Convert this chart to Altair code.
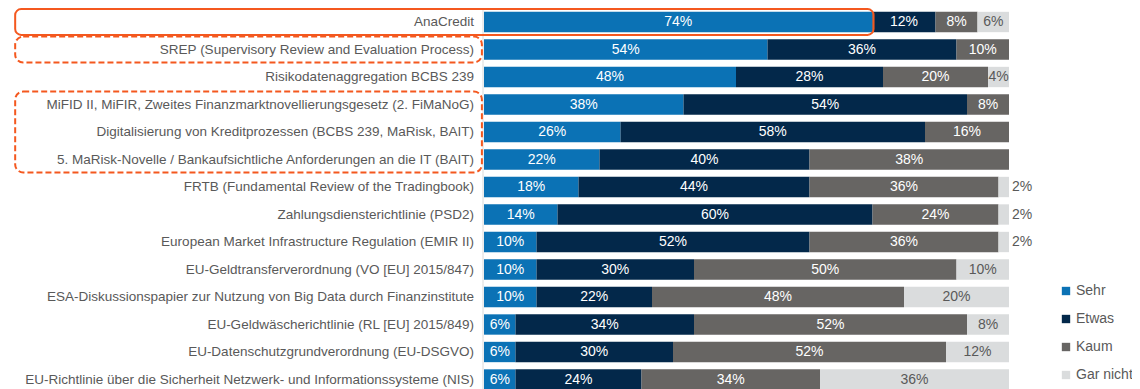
import altair as alt
import pandas as pd

categories = [
    "AnaCredit",
    "SREP (Supervisory Review and Evaluation Process)",
    "Risikodatenaggregation BCBS 239",
    "MiFID II, MiFIR, Zweites Finanzmarktnovellierungsgesetz (2. FiMaNoG)",
    "Digitalisierung von Kreditprozessen (BCBS 239, MaRisk, BAIT)",
    "5. MaRisk-Novelle / Bankaufsichtliche Anforderungen an die IT (BAIT)",
    "FRTB (Fundamental Review of the Tradingbook)",
    "Zahlungsdiensterichtlinie (PSD2)",
    "European Market Infrastructure Regulation (EMIR II)",
    "EU-Geldtransferverordnung (VO [EU] 2015/847)",
    "ESA-Diskussionspapier zur Nutzung von Big Data durch Finanzinstitute",
    "EU-Geldwäscherichtlinie (RL [EU] 2015/849)",
    "EU-Datenschutzgrundverordnung (EU-DSGVO)",
    "EU-Richtlinie über die Sicherheit Netzwerk- und Informationssysteme (NIS)",
]
series_names = ["Sehr", "Etwas", "Kaum", "Gar nicht"]
sehr = [74, 54, 48, 38, 26, 22, 18, 14, 10, 10, 10, 6, 6, 6]
etwas = [12, 36, 28, 54, 58, 40, 44, 60, 52, 30, 22, 34, 30, 24]
kaum = [8, 10, 20, 8, 16, 38, 36, 24, 36, 50, 48, 52, 52, 34]
gar_nicht = [6, 0, 4, 0, 0, 0, 2, 2, 2, 10, 20, 8, 12, 36]
series_colors = ["#0b72b5", "#03284a", "#676563", "#dadcdd"]

# highlighted groups: (first category, last category, solid?, extend over Sehr bar?)
highlights = [
    (categories[0], categories[0], True, True),
    (categories[1], categories[1], False, False),
    (categories[3], categories[5], False, False),
]

values = [sehr, etwas, kaum, gar_nicht]
rows = []
for i, cat in enumerate(categories):
    start = 0
    for s, vals in zip(series_names, values):
        v = vals[i]
        rows.append(dict(cat=cat, row=i, series=s, value=v, start=start,
                         end=start + v, mid=start + v / 2, label=f"{v}%",
                         y0=i - 0.37, y1=i + 0.37))
        start += v
df = pd.DataFrame(rows)
df = df[df.value > 0]

cats_df = pd.DataFrame(dict(cat=categories, row=range(len(categories))))

hl_rows = []
for first, last, solid, over in highlights:
    r0 = categories.index(first)
    r1 = categories.index(last)
    x1 = sehr[r0] + 0.2 if over else -0.4
    hl_rows.append(dict(y0=r0 - 0.47, y1=r1 + 0.47, x0=-89.3, x1=x1, solid=solid))
hl = pd.DataFrame(hl_rows)

W, H = 1124, 381
px_per_unit = 5.25
xmin = -(484 - 8) / px_per_unit
xmax = xmin + W / px_per_unit
pitch = 27.5
ymin = -14 / pitch
ymax = ymin + H / pitch

xs = alt.Scale(domain=[xmin, xmax], nice=False, zero=False)
ys = alt.Scale(domain=[ymin, ymax], nice=False, zero=False, reverse=True)
FONT = "Liberation Sans"
GRAY = "#595959"

axis_rule = alt.Chart(cats_df).mark_rule(color="#d9d9d9", strokeWidth=1, xOffset=-1).encode(
    x=alt.X(datum=0, scale=xs, axis=None),
    y=alt.Y("y0:Q", scale=ys, axis=None),
    y2="y1:Q",
).transform_calculate(y0="datum.row - 0.5", y1="datum.row + 0.5")

bars = alt.Chart(df).mark_rect().encode(
    x=alt.X("start:Q", scale=xs, axis=None),
    x2="end:Q",
    y=alt.Y("y0:Q", scale=ys, axis=None),
    y2="y1:Q",
    color=alt.Color(
        "series:N",
        scale=alt.Scale(domain=series_names, range=series_colors),
        sort=series_names,
        legend=alt.Legend(
            title=None, orient="none", legendX=1051, legendY=276,
            symbolType="square", symbolSize=70, symbolStrokeWidth=0,
            labelFont=FONT, labelFontSize=14, labelColor=GRAY,
            rowPadding=14, labelOffset=3, padding=0,
        ),
    ),
)

dark = df[df.series != "Gar nicht"]
light_in = df[(df.series == "Gar nicht") & (df.value > 2)]
light_out = df[(df.series == "Gar nicht") & (df.value <= 2)]

VFS = 14
txt_dark = alt.Chart(dark).mark_text(color="white", font=FONT, fontSize=VFS, baseline="middle").encode(
    x=alt.X("mid:Q", scale=xs, axis=None), y=alt.Y("row:Q", scale=ys, axis=None), text="label:N")
txt_light = alt.Chart(light_in).mark_text(color=GRAY, font=FONT, fontSize=VFS, baseline="middle").encode(
    x=alt.X("mid:Q", scale=xs, axis=None), y=alt.Y("row:Q", scale=ys, axis=None), text="label:N")
txt_out = alt.Chart(light_out).mark_text(color=GRAY, font=FONT, fontSize=VFS, baseline="middle",
                                         align="left", dx=3).encode(
    x=alt.X("end:Q", scale=xs, axis=None), y=alt.Y("row:Q", scale=ys, axis=None), text="label:N")

cat_labels = alt.Chart(cats_df).mark_text(color=GRAY, font=FONT, fontSize=13.5, baseline="middle",
                                          align="right", dx=-10).encode(
    x=alt.X(datum=0, scale=xs, axis=None), y=alt.Y("row:Q", scale=ys, axis=None), text="cat:N")

box_solid = alt.Chart(hl[hl.solid]).mark_rect(
    fillOpacity=0, stroke="#f4581f", strokeWidth=2, cornerRadius=6).encode(
    x=alt.X("x0:Q", scale=xs, axis=None), x2="x1:Q",
    y=alt.Y("y0:Q", scale=ys, axis=None), y2="y1:Q")
box_dash = alt.Chart(hl[~hl.solid]).mark_rect(
    fillOpacity=0, stroke="#f4581f", strokeWidth=2, cornerRadius=8, strokeDash=[6, 3]).encode(
    x=alt.X("x0:Q", scale=xs, axis=None), x2="x1:Q",
    y=alt.Y("y0:Q", scale=ys, axis=None), y2="y1:Q")

chart = alt.layer(
    axis_rule, bars, txt_dark, txt_light, txt_out, cat_labels, box_solid, box_dash
).properties(
    width=W, height=H, padding=0, autosize=alt.AutoSizeParams(type="none"),
).configure_view(stroke=None)

chart.save("out.html", embed_options={"renderer": "svg", "actions": False})
